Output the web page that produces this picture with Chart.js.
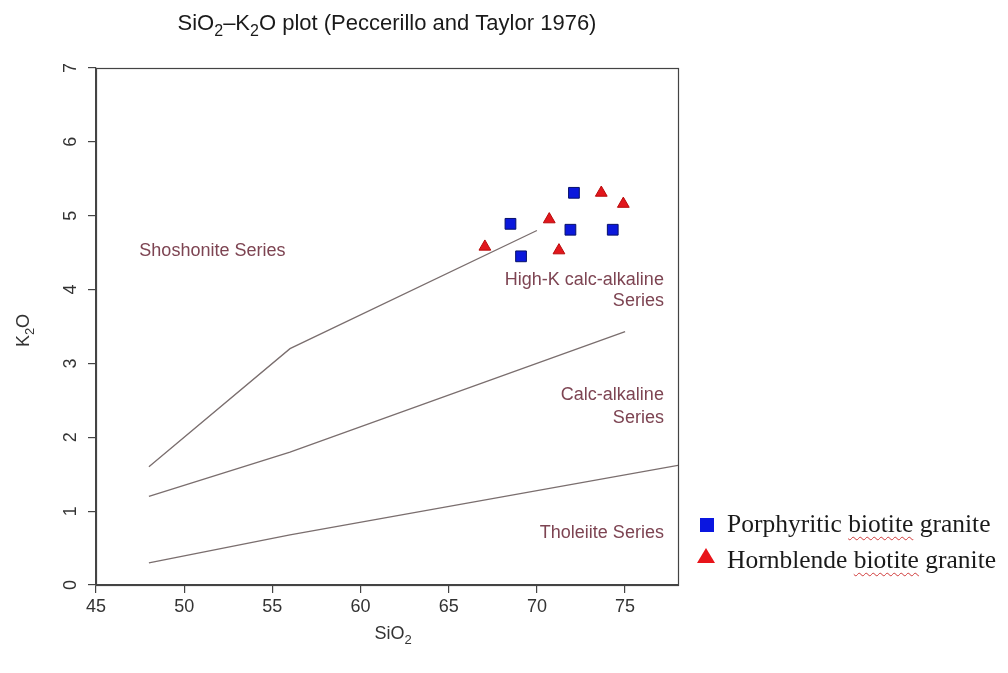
<!DOCTYPE html>
<html>
<head>
<meta charset="utf-8">
<script src="https://cdn.jsdelivr.net/npm/chart.js@4.4.1/dist/chart.umd.min.js"></script>
<style>
  html, body { margin: 0; padding: 0; background: #fff; }
  #wrap { position: relative; width: 1008px; height: 673px; }
  .leg-row { position: absolute; left: 727px; font-family: "Liberation Serif", "Times New Roman", serif; font-size: 25.5px; line-height: 25px; color: #1a1a1a; white-space: nowrap; }
  .spell { text-decoration: underline wavy #d03a3a; text-decoration-thickness: 1px; text-underline-offset: 4px; }
  #mk-sq { position: absolute; left: 700px; top: 518px; width: 14px; height: 14px; background: #0a16e0; }
  #mk-tri { position: absolute; left: 697px; top: 548px; width: 0; height: 0; border-left: 9px solid transparent; border-right: 9px solid transparent; border-bottom: 15px solid #e8141a; }
</style>
</head>
<body>
<div id="wrap">
  <canvas id="myChart" width="1008" height="673"></canvas>
  <div id="mk-sq"></div>
  <div class="leg-row" style="top:511px">Porphyritic <span class="spell">biotite</span> granite</div>
  <div id="mk-tri"></div>
  <div class="leg-row" style="top:547px">Hornblende <span class="spell">biotite</span> granite</div>
</div>
<script>
// ================= Data =================
const porphyriticSiO2 = [68.5, 69.1, 72.1, 71.9, 74.3];
const porphyriticK2O  = [4.89, 4.45, 5.31, 4.81, 4.81];
const hornblendeSiO2  = [67.05, 70.7, 71.25, 73.65, 74.9];
const hornblendeK2O   = [4.58, 4.95, 4.53, 5.31, 5.16];

// series boundaries (Peccerillo and Taylor 1976)
const shoshoniteSiO2 = [48, 56, 70];
const shoshoniteK2O  = [1.6, 3.2, 4.8];
const highKSiO2      = [48, 56, 75];
const highKK2O       = [1.2, 1.8, 3.43];
const tholeiiteSiO2  = [48, 56, 78];
const tholeiiteK2O   = [0.3, 0.68, 1.62];

const xTicks = [45, 50, 55, 60, 65, 70, 75];
const yTicks = [0, 1, 2, 3, 4, 5, 6, 7];

// region names and where they sit (SiO2, K2O)
const regionNames = ['Shoshonite Series', 'High-K calc-alkaline', 'Series', 'Calc-alkaline', 'Series', 'Tholeiite Series'];
const regionSiO2  = [51.6, 77.2, 77.2, 77.2, 77.2, 77.2];
const regionK2O   = [4.52, 4.13, 3.84, 2.57, 2.26, 0.70];
const regionAlign = ['center', 'right', 'right', 'right', 'right', 'right'];

const toPoints = (xs, ys) => xs.map((x, i) => ({ x: x, y: ys[i] }));
const FONT = '"Liberation Sans", Arial, sans-serif';

// ================= Subscript text helper =================
function drawSub(ctx, parts, x, y, size, color) {
  const subSize = Math.round(size * 0.72);
  let w = 0;
  parts.forEach(([t, sub]) => {
    ctx.font = (sub ? subSize : size) + 'px ' + FONT;
    w += ctx.measureText(t).width;
  });
  let cx = x - w / 2;
  ctx.fillStyle = color;
  ctx.textAlign = 'left';
  ctx.textBaseline = 'alphabetic';
  parts.forEach(([t, sub]) => {
    ctx.font = (sub ? subSize : size) + 'px ' + FONT;
    ctx.fillText(t, cx, y + (sub ? size * 0.28 : 0));
    cx += ctx.measureText(t).width;
  });
}

// ================= Frame, titles, region labels =================
const decorations = {
  id: 'decorations',
  afterDraw(chart) {
    const { ctx, chartArea: a, scales: { x, y } } = chart;
    ctx.save();
    ctx.strokeStyle = '#444';
    ctx.lineWidth = 1.2;
    ctx.strokeRect(a.left + 0.5, a.top + 0.5, a.right - a.left, a.bottom - a.top);

    const mid = (a.left + a.right) / 2;
    drawSub(ctx, [['SiO', false], ['2', true], ['\u2013K', false], ['2', true], ['O plot (Peccerillo and Taylor 1976)', false]], mid, 30, 22, '#1a1a1a');
    drawSub(ctx, [['SiO', false], ['2', true]], mid + 6, 639, 18, '#333');

    ctx.save();
    ctx.translate(29, (a.top + a.bottom) / 2 + 4);
    ctx.rotate(-Math.PI / 2);
    drawSub(ctx, [['K', false], ['2', true], ['O', false]], 0, 0, 18, '#333');
    ctx.restore();

    ctx.font = '18px ' + FONT;
    ctx.fillStyle = '#7d4452';
    ctx.textBaseline = 'middle';
    regionNames.forEach((name, i) => {
      ctx.textAlign = regionAlign[i];
      ctx.fillText(name, x.getPixelForValue(regionSiO2[i]), y.getPixelForValue(regionK2O[i]));
    });
    ctx.restore();
  }
};

// ================= Chart =================
const boundaryStyle = { type: 'line', borderColor: '#7a6e6e', borderWidth: 1.3, pointRadius: 0, fill: false, tension: 0 };

new Chart(document.getElementById('myChart'), {
  type: 'scatter',
  data: {
    datasets: [
      Object.assign({ label: 'Shoshonite / High-K', data: toPoints(shoshoniteSiO2, shoshoniteK2O) }, boundaryStyle),
      Object.assign({ label: 'High-K / Calc-alkaline', data: toPoints(highKSiO2, highKK2O) }, boundaryStyle),
      Object.assign({ label: 'Calc-alkaline / Tholeiite', data: toPoints(tholeiiteSiO2, tholeiiteK2O) }, boundaryStyle),
      {
        label: 'Porphyritic biotite granite',
        data: toPoints(porphyriticSiO2, porphyriticK2O),
        pointStyle: 'rect',
        pointRadius: 7.6,
        backgroundColor: '#0b18dc',
        borderColor: '#06106a',
        borderWidth: 1
      },
      {
        label: 'Hornblende biotite granite',
        data: toPoints(hornblendeSiO2, hornblendeK2O),
        pointStyle: 'triangle',
        pointRadius: 6.8,
        backgroundColor: '#e2161c',
        borderColor: '#b80a0a',
        borderWidth: 1
      }
    ]
  },
  options: {
    responsive: false,
    animation: false,
    devicePixelRatio: 1,
    layout: { padding: { left: 0, top: 68, right: 330, bottom: 0 } },
    plugins: {
      legend: { display: false },
      title: { display: false },
      tooltip: { enabled: false }
    },
    scales: {
      x: {
        type: 'linear',
        min: 45,
        max: 78,
        afterBuildTicks: s => { s.ticks = xTicks.map(v => ({ value: v })); },
        afterFit: s => { s.height = 88; },
        ticks: { font: { family: FONT, size: 18 }, color: '#333', padding: 3 },
        grid: { display: true, drawOnChartArea: false, drawTicks: true, tickLength: 8, color: '#444', lineWidth: 1.2 },
        border: { display: true, color: '#444', width: 1.2 }
      },
      y: {
        type: 'linear',
        min: 0,
        max: 7,
        afterBuildTicks: s => { s.ticks = yTicks.map(v => ({ value: v })); },
        afterFit: s => { s.width = 96; },
        ticks: { font: { family: FONT, size: 18 }, color: '#333', padding: 12, minRotation: 90, maxRotation: 90, crossAlign: 'center' },
        grid: { display: true, drawOnChartArea: false, drawTicks: true, tickLength: 8, color: '#444', lineWidth: 1.2 },
        border: { display: true, color: '#444', width: 1.2 }
      }
    }
  },
  plugins: [decorations]
});
</script>
</body>
</html>
